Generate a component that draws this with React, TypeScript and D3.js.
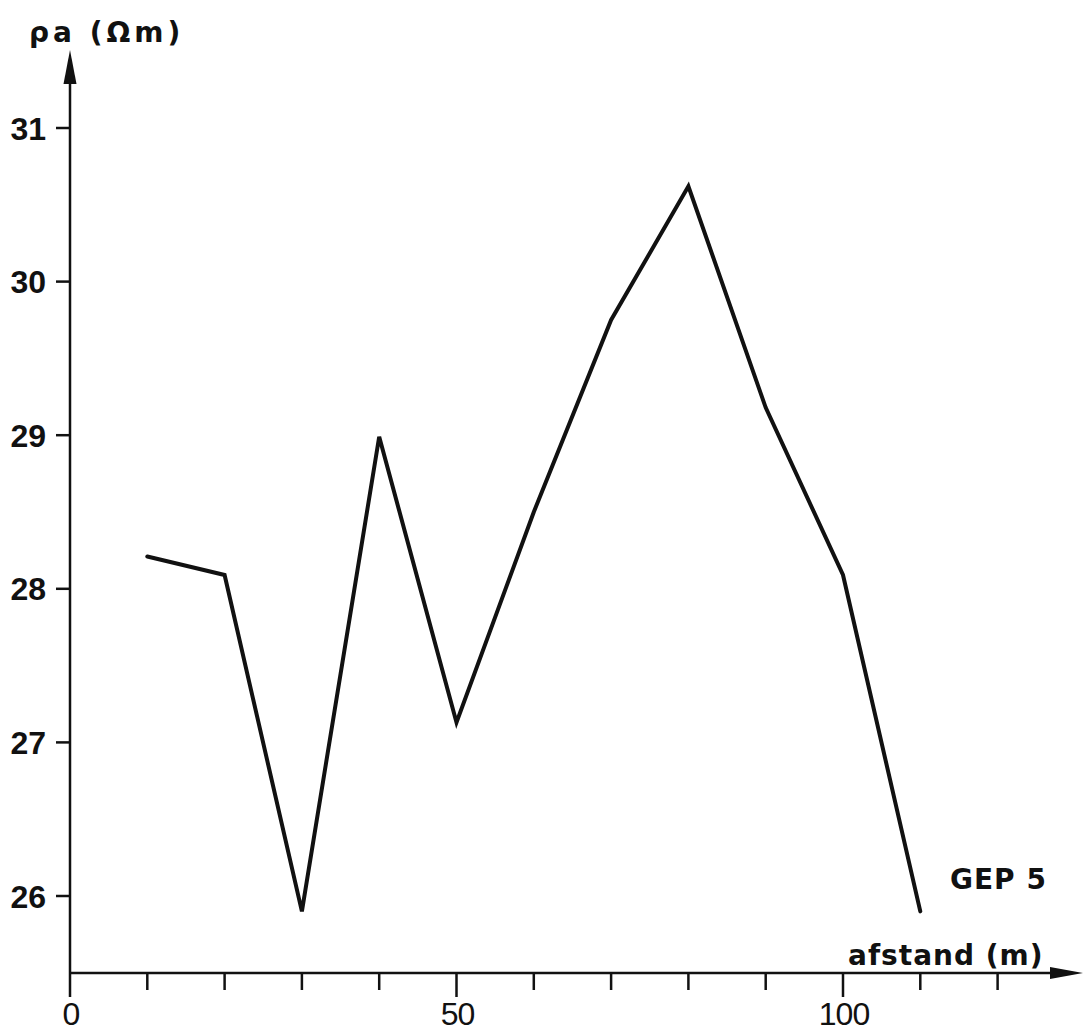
import React from "react";
import * as d3 from "d3";

// Apparent resistivity profile GEP 5
const distances = [10, 20, 30, 40, 50, 60, 70, 80, 90, 100, 110];
const resistivity = [28.21, 28.09, 25.9, 28.99, 27.13, 28.5, 29.75, 30.62, 29.18, 28.09, 25.9];
const xTicks = [0, 10, 20, 30, 40, 50, 60, 70, 80, 90, 100, 110, 120];
const xLabelled = [0, 50, 100];
const yTicks = [26, 27, 28, 29, 30, 31];

const W = 1083;
const H = 1034;
const X0 = 70; // axis origin x
const Y0 = 973; // axis origin y

const x = d3.scaleLinear().domain([0, 100]).range([X0, 843]);
const y = d3.scaleLinear().domain([26, 31]).range([896, 128]);

const labelFont = "'DejaVu Sans', 'Noto Sans', sans-serif";
const numFont = "'Liberation Sans', Arial, sans-serif";

export default function App() {
  const line = d3
    .line<number>()
    .x((_, i) => x(distances[i]))
    .y((d) => y(d))
    .curve(d3.curveLinear);

  return (
    <svg
      width={W}
      height={H}
      viewBox={`0 0 ${W} ${H}`}
      style={{ position: "absolute", left: 0, top: 0, background: "#fff" }}
    >
      <rect width={W} height={H} fill="#fff" />

      {/* y axis with arrow */}
      <line x1={X0} x2={X0} y1={Y0 + 24} y2={80} stroke="#111" strokeWidth={2.5} />
      <path d={`M${X0} 50 L${X0 - 6.5} 84 L${X0 + 6.5} 84 Z`} fill="#111" />

      {/* x axis with arrow */}
      <line x1={X0} x2={1055} y1={Y0} y2={Y0} stroke="#111" strokeWidth={2.5} />
      <path d={`M1083 ${Y0} L1050 ${Y0 - 6} L1050 ${Y0 + 6} Z`} fill="#111" />

      {/* y ticks */}
      {yTicks.map((t) => (
        <g key={`y${t}`}>
          <line x1={X0 - 14} x2={X0} y1={y(t)} y2={y(t)} stroke="#111" strokeWidth={2.5} />
          <text
            x={46}
            y={y(t)}
            dy="0.36em"
            textAnchor="end"
            fontFamily={numFont}
            fontWeight="bold"
            fontSize={32}
            fill="#111"
          >
            {t}
          </text>
        </g>
      ))}

      {/* x ticks */}
      {xTicks.map((t) =>
        t === 0 ? null : (
          <line
            key={`x${t}`}
            x1={x(t)}
            x2={x(t)}
            y1={Y0}
            y2={xLabelled.includes(t) ? Y0 + 24 : Y0 + 17}
            stroke="#111"
            strokeWidth={2.5}
          />
        )
      )}
      {xLabelled.map((t) => (
        <text
          key={`xl${t}`}
          x={x(t) + 1}
          y={1025}
          textAnchor="middle"
          fontFamily={numFont}
          fontSize={32}
          fill="#111"
          letterSpacing={-1}
        >
          {t}
        </text>
      ))}

      {/* data line */}
      <path
        d={line(resistivity) || ""}
        fill="none"
        stroke="#111"
        strokeWidth={4}
        strokeLinejoin="miter"
        strokeLinecap="round"
      />

      {/* labels */}
      <text x={29} y={42} fontFamily={labelFont} fontWeight="bold" fontSize={28} fill="#111" letterSpacing={4}>
        ρa (Ωm)
      </text>
      <text x={848} y={965} fontFamily={labelFont} fontWeight="bold" fontSize={28} fill="#111" letterSpacing={1}>
        afstand (m)
      </text>
      <text x={950} y={889} fontFamily={labelFont} fontWeight="bold" fontSize={28} fill="#111" letterSpacing={1}>
        GEP 5
      </text>
    </svg>
  );
}
